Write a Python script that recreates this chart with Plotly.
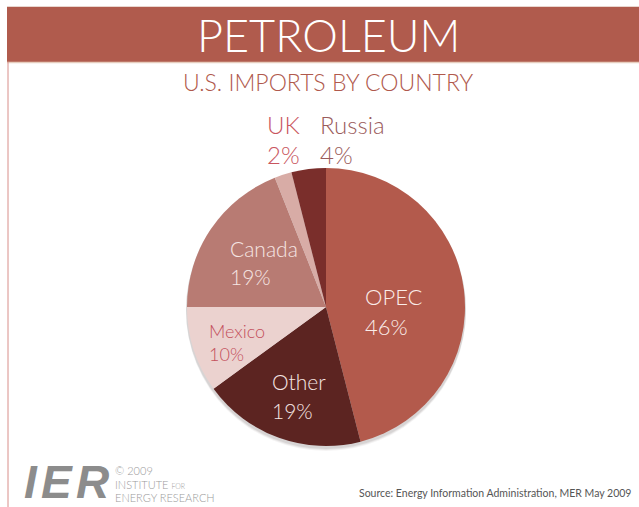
import plotly.graph_objects as go

# U.S. petroleum imports by country of origin (share of total, %)
countries = ["OPEC", "Other", "Mexico", "Canada", "UK", "Russia"]
shares = [46, 19, 10, 19, 2, 4]
slice_colors = ["#B35A4C", "#5C2421", "#EBD2CF", "#B87B73", "#D8ACA6", "#7A2E2B"]

W, H = 639, 507
FONT = "Lato"
LIGHT = 300

# label anchors in pixels (left edge x, line-1 y, line-2 y), font size, colour
label_style = {
    "OPEC":   (363, 296, 326, 22, "#FBEDEA"),
    "Other":  (270, 381, 410, 21, "#F6E6E3"),
    "Mexico": (207, 331, 354, 18, "#C4505C"),
    "Canada": (228, 248, 276, 21, "#F6E6E3"),
    "UK":     (265, 124, 154, 24, "#C9565E"),
    "Russia": (318, 124, 154, 24, "#9A5C5C"),
}

def px(x):
    return x / W

def py(y):
    return 1 - y / H

# pie geometry (pixels)
cx, cy, r = 326, 307, 139

fig = go.Figure()
fig.add_trace(go.Pie(
    labels=countries,
    values=shares,
    sort=False,
    direction="clockwise",
    rotation=0,
    marker=dict(colors=slice_colors, line=dict(width=0)),
    textinfo="none",
    hoverinfo="label+percent",
    showlegend=False,
    domain=dict(x=[px(cx - r), px(cx + r)], y=[py(cy + r), py(cy - r)]),
))

shapes = []
# soft drop shadow under the pie
for d, op in [(5, 0.05), (4, 0.07), (3, 0.09)]:
    shapes.append(dict(type="circle", xref="paper", yref="paper", layer="below",
                       x0=px(cx - r - 1), x1=px(cx + r + 1),
                       y0=py(cy + r + d), y1=py(cy - r + d - 2),
                       fillcolor=f"rgba(60,40,40,{op})", line=dict(width=0)))
# header band
shapes.append(dict(type="rect", xref="paper", yref="paper", layer="below",
                   x0=px(7), x1=1.0, y0=py(62), y1=py(7),
                   fillcolor="#B05B4D", line=dict(width=0)))
shapes.append(dict(type="line", xref="paper", yref="paper",
                   x0=px(7), x1=1.0, y0=py(62.5), y1=py(62.5),
                   line=dict(color="#E6CDBE", width=1.5)))
shapes.append(dict(type="line", xref="paper", yref="paper",
                   x0=px(7), x1=1.0, y0=py(6.5), y1=py(6.5),
                   line=dict(color="#E9D6CF", width=1)))
# left rule
shapes.append(dict(type="line", xref="paper", yref="paper",
                   x0=px(8), x1=px(8), y0=py(62), y1=0,
                   line=dict(color="#D88E8A", width=1)))

annotations = [
    dict(text="PETROLEUM", x=px(328), y=py(35), xref="paper", yref="paper",
         showarrow=False, xanchor="center", yanchor="middle",
         font=dict(family=FONT, size=45, color="#FFFFFF", weight=LIGHT)),
    dict(text="U.S. IMPORTS BY COUNTRY", x=px(328), y=py(82), xref="paper", yref="paper",
         showarrow=False, xanchor="center", yanchor="middle",
         font=dict(family=FONT, size=23, color="#B0594C", weight=LIGHT)),
]

for name, val in zip(countries, shares):
    lx, y1, y2, fs, col = label_style[name]
    for txt, yy in ((name, y1), (f"{val}%", y2)):
        annotations.append(dict(text=txt, x=px(lx), y=py(yy), xref="paper", yref="paper",
                                showarrow=False, xanchor="left", yanchor="middle",
                                font=dict(family=FONT, size=fs, color=col, weight=LIGHT)))

# institute mark: spaced bold italic letters
for letter, lx in (("I", 22), ("E", 39), ("R", 74)):
    annotations.append(dict(text=f"<b><i>{letter}</i></b>", x=px(lx), y=py(482),
                            xref="paper", yref="paper", showarrow=False,
                            xanchor="left", yanchor="middle",
                            font=dict(family="Liberation Sans", size=46, color="#8C8C8C")))

# credits
annotations += [
    dict(text="© 2009", x=px(113), y=py(470), xref="paper", yref="paper",
         showarrow=False, xanchor="left", yanchor="middle",
         font=dict(family=FONT, size=11, color="#9A9A9A", weight=LIGHT)),
    dict(text="INSTITUTE <span style='font-size:7px'>FOR</span>", x=px(113), y=py(484),
         xref="paper", yref="paper", showarrow=False, xanchor="left", yanchor="middle",
         font=dict(family=FONT, size=11, color="#9A9A9A", weight=LIGHT)),
    dict(text="ENERGY RESEARCH", x=px(113), y=py(497), xref="paper", yref="paper",
         showarrow=False, xanchor="left", yanchor="middle",
         font=dict(family=FONT, size=11, color="#9A9A9A", weight=LIGHT)),
    dict(text="Source: Energy Information Administration, MER May 2009", x=px(633), y=py(493),
         xref="paper", yref="paper", showarrow=False, xanchor="right", yanchor="middle",
         font=dict(family=FONT, size=10.5, color="#555555")),
]

fig.update_layout(
    width=W, height=H,
    margin=dict(l=0, r=0, t=0, b=0),
    paper_bgcolor="#FFFFFF", plot_bgcolor="#FFFFFF",
    shapes=shapes, annotations=annotations,
)

fig.write_html("out.html")
